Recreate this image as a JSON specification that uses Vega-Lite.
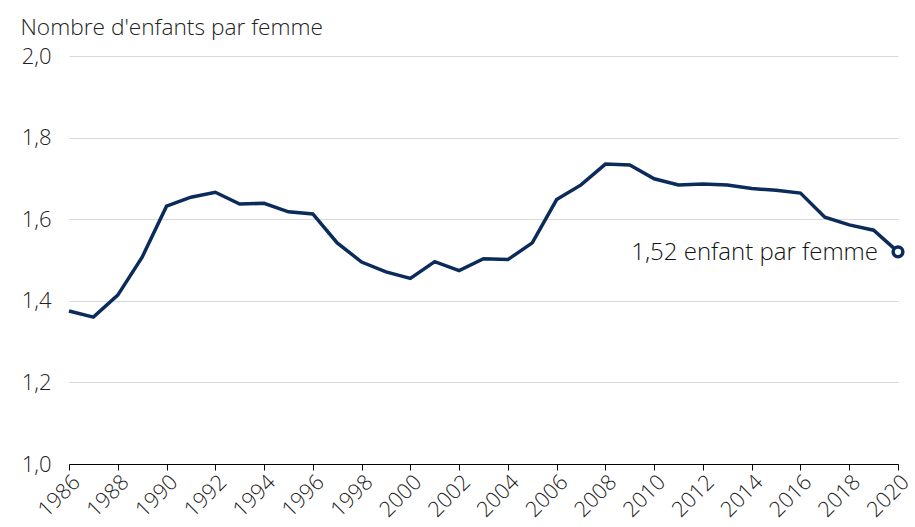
{
  "$schema": "https://vega.github.io/schema/vega-lite/v6.json",
  "width": 829,
  "height": 408,
  "autosize": "none",
  "padding": {"left": 69, "top": 56, "right": 17, "bottom": 63},
  "background": "white",
  "config": {
    "view": {"stroke": null},
    "font": "Open Sans",
    "axis": {"labelFont": "Open Sans", "titleFont": "Open Sans"}
  },
  "data": {
    "values": [
      {"annee": 1986, "icf": 1.375},
      {"annee": 1987, "icf": 1.36},
      {"annee": 1988, "icf": 1.414},
      {"annee": 1989, "icf": 1.507},
      {"annee": 1990, "icf": 1.632},
      {"annee": 1991, "icf": 1.654},
      {"annee": 1992, "icf": 1.666},
      {"annee": 1993, "icf": 1.637},
      {"annee": 1994, "icf": 1.639},
      {"annee": 1995, "icf": 1.618},
      {"annee": 1996, "icf": 1.613},
      {"annee": 1997, "icf": 1.542},
      {"annee": 1998, "icf": 1.495},
      {"annee": 1999, "icf": 1.471},
      {"annee": 2000, "icf": 1.455},
      {"annee": 2001, "icf": 1.496},
      {"annee": 2002, "icf": 1.474},
      {"annee": 2003, "icf": 1.503},
      {"annee": 2004, "icf": 1.501},
      {"annee": 2005, "icf": 1.542},
      {"annee": 2006, "icf": 1.648},
      {"annee": 2007, "icf": 1.684},
      {"annee": 2008, "icf": 1.735},
      {"annee": 2009, "icf": 1.733},
      {"annee": 2010, "icf": 1.699},
      {"annee": 2011, "icf": 1.684},
      {"annee": 2012, "icf": 1.686},
      {"annee": 2013, "icf": 1.684},
      {"annee": 2014, "icf": 1.675},
      {"annee": 2015, "icf": 1.671},
      {"annee": 2016, "icf": 1.664},
      {"annee": 2017, "icf": 1.605},
      {"annee": 2018, "icf": 1.586},
      {"annee": 2019, "icf": 1.573},
      {"annee": 2020, "icf": 1.52, "label": "1,52 enfant par femme"}
    ]
  },
  "encoding": {
    "x": {
      "field": "annee",
      "type": "quantitative",
      "scale": {"domain": [1986, 2020], "nice": false, "zero": false},
      "axis": {
        "title": null,
        "values": [1986, 1988, 1990, 1992, 1994, 1996, 1998, 2000, 2002, 2004, 2006, 2008, 2010, 2012, 2014, 2016, 2018, 2020],
        "format": "d",
        "grid": false,
        "domainColor": "#000000",
        "domainWidth": 1,
        "tickColor": "#000000",
        "tickSize": 6,
        "labelAngle": -45,
        "labelAlign": "right",
        "labelBaseline": "top",
        "labelPadding": 1,
        "labelFontSize": 21.5,
        "labelFontWeight": 300,
        "labelColor": "#222222",
        "labelOverlap": false,
        "labelFlush": false
      }
    },
    "y": {
      "field": "icf",
      "type": "quantitative",
      "scale": {"domain": [1.0, 2.0], "nice": false, "zero": false},
      "axis": {
        "values": [1.0, 1.2, 1.4, 1.6, 1.8, 2.0],
        "labelExpr": "replace(format(datum.value, '.1f'), '.', ',')",
        "domain": false,
        "ticks": false,
        "grid": true,
        "gridColor": "#d9d9d9",
        "gridWidth": 1,
        "labelPadding": 18,
        "labelFontSize": 22,
        "labelFontWeight": 300,
        "labelColor": "#222222",
        "title": "Nombre d'enfants par femme",
        "titleAngle": 0,
        "titleAlign": "left",
        "titleBaseline": "middle",
        "titleX": -49,
        "titleY": -29,
        "titleFontSize": 22.7,
        "titleFontWeight": 300,
        "titleColor": "#222222"
      }
    }
  },
  "layer": [
    {
      "mark": {"type": "line", "color": "#0b2c5a", "strokeWidth": 3.5, "strokeJoin": "miter", "clip": false}
    },
    {
      "transform": [{"filter": "datum.annee == 2020"}],
      "mark": {"type": "point", "shape": "circle", "filled": true, "fill": "white", "stroke": "#0b2c5a", "strokeWidth": 3.5, "size": 95, "opacity": 1}
    },
    {
      "transform": [{"filter": "datum.annee == 2020"}],
      "mark": {"type": "text", "align": "right", "baseline": "middle", "dx": -20, "dy": 1, "fontSize": 24, "fontWeight": 300, "color": "#111111"},
      "encoding": {"text": {"field": "label"}}
    }
  ]
}
